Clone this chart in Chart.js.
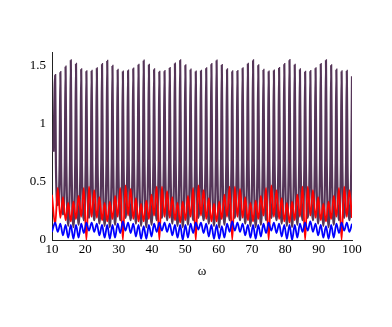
<!DOCTYPE html>
<html>
<head>
<meta charset="utf-8">
<script src="https://cdn.jsdelivr.net/npm/chart.js@4"></script>
<style>
  html, body { margin: 0; padding: 0; background: #fff; }
</style>
</head>
<body>
<canvas id="chart_div" width="392" height="327"></canvas>
<script>
// sample positions (peaks / troughs), used by red and blue
const omega = [10.00,
  10.95, 11.73, 12.51, 13.29, 14.07, 14.86, 15.64, 16.42, 17.20, 17.98, 18.76, 19.54,
  20.32, 21.10, 21.89, 22.67, 23.45, 24.23, 25.01, 25.79, 26.57, 27.35, 28.14, 28.92, 29.70, 30.48,
  31.26, 32.04, 32.82, 33.60, 34.38, 35.17, 35.95, 36.73, 37.51, 38.29, 39.07, 39.85, 40.63, 41.41,
  42.20, 42.98, 43.76, 44.54, 45.32, 46.10, 46.88, 47.66, 48.45, 49.23, 50.01, 50.79, 51.57, 52.35,
  53.13, 53.91, 54.69, 55.48, 56.26, 57.04, 57.82, 58.60, 59.38, 60.16, 60.94, 61.72, 62.51, 63.29,
  64.07, 64.85, 65.63, 66.41, 67.19, 67.97, 68.76, 69.54, 70.32, 71.10, 71.88, 72.66, 73.44, 74.22,
  75.00, 75.79, 76.57, 77.35, 78.13, 78.91, 79.69, 80.47, 81.25, 82.03, 82.82, 83.60, 84.38, 85.16,
  85.94, 86.72, 87.50, 88.28, 89.07, 89.85, 90.63, 91.41, 92.19, 92.97, 93.75, 94.53, 95.31, 96.10,
  96.88, 97.66, 98.44, 99.22, 100.00];

// purple curve: narrow peaks, so each peak gets two shoulder points
const purpleX = [10.45,
  10.95, 11.17, 11.73,
  12.29, 12.51, 12.73, 13.29,  13.85, 14.07, 14.29, 14.86,  15.42, 15.64, 15.86, 16.42,
  16.98, 17.20, 17.42, 17.98,  18.54, 18.76, 18.98, 19.54,  20.10, 20.32, 20.54, 21.10,
  21.67, 21.89, 22.11, 22.67,  23.23, 23.45, 23.67, 24.23,  24.79, 25.01, 25.23, 25.79,
  26.35, 26.57, 26.79, 27.35,  27.92, 28.14, 28.36, 28.92,  29.48, 29.70, 29.92, 30.48,
  31.04, 31.26, 31.48, 32.04,  32.60, 32.82, 33.04, 33.60,  34.16, 34.38, 34.60, 35.17,
  35.73, 35.95, 36.17, 36.73,  37.29, 37.51, 37.73, 38.29,  38.85, 39.07, 39.29, 39.85,
  40.41, 40.63, 40.85, 41.41,  41.98, 42.20, 42.42, 42.98,  43.54, 43.76, 43.98, 44.54,
  45.10, 45.32, 45.54, 46.10,  46.66, 46.88, 47.10, 47.66,  48.23, 48.45, 48.67, 49.23,
  49.79, 50.01, 50.23, 50.79,  51.35, 51.57, 51.79, 52.35,  52.91, 53.13, 53.35, 53.91,
  54.47, 54.69, 54.91, 55.48,  56.04, 56.26, 56.48, 57.04,  57.60, 57.82, 58.04, 58.60,
  59.16, 59.38, 59.60, 60.16,  60.72, 60.94, 61.16, 61.72,  62.29, 62.51, 62.73, 63.29,
  63.85, 64.07, 64.29, 64.85,  65.41, 65.63, 65.85, 66.41,  66.97, 67.19, 67.41, 67.97,
  68.54, 68.76, 68.98, 69.54,  70.10, 70.32, 70.54, 71.10,  71.66, 71.88, 72.10, 72.66,
  73.22, 73.44, 73.66, 74.22,  74.78, 75.00, 75.22, 75.79,  76.35, 76.57, 76.79, 77.35,
  77.91, 78.13, 78.35, 78.91,  79.47, 79.69, 79.91, 80.47,  81.03, 81.25, 81.47, 82.03,
  82.60, 82.82, 83.04, 83.60,  84.16, 84.38, 84.60, 85.16,  85.72, 85.94, 86.16, 86.72,
  87.28, 87.50, 87.72, 88.28,  88.85, 89.07, 89.29, 89.85,  90.41, 90.63, 90.85, 91.41,
  91.97, 92.19, 92.41, 92.97,  93.53, 93.75, 93.97, 94.53,  95.09, 95.31, 95.53, 96.10,
  96.66, 96.88, 97.10, 97.66,  98.22, 98.44, 98.66, 99.22,
  99.78, 100.00];

const purple = [0.76,
  1.42, 0.66, 0.30,
  0.66, 1.446, 0.67, 0.22,  0.68, 1.494, 0.69, 0.12,  0.70, 1.549, 0.70, 0.11,
  0.69, 1.517, 0.68, 0.13,  0.67, 1.471, 0.67, 0.17,  0.66, 1.454, 0.66, 0.19,
  0.66, 1.457, 0.66, 0.17,  0.67, 1.48, 0.68, 0.14,   0.69, 1.515, 0.69, 0.12,
  0.70, 1.543, 0.70, 0.11,  0.68, 1.50, 0.68, 0.13,   0.67, 1.466, 0.66, 0.17,
  0.66, 1.452, 0.66, 0.19,  0.66, 1.46, 0.66, 0.17,   0.67, 1.478, 0.68, 0.14,
  0.69, 1.51, 0.69, 0.12,   0.70, 1.545, 0.70, 0.11,  0.69, 1.51, 0.68, 0.13,
  0.67, 1.47, 0.67, 0.17,   0.66, 1.45, 0.66, 0.19,   0.66, 1.455, 0.66, 0.17,
  0.67, 1.482, 0.68, 0.14,  0.69, 1.52, 0.69, 0.12,   0.70, 1.548, 0.70, 0.11,
  0.68, 1.505, 0.68, 0.13,  0.67, 1.468, 0.66, 0.17,  0.66, 1.452, 0.66, 0.19,
  0.66, 1.458, 0.66, 0.17,  0.67, 1.48, 0.68, 0.14,   0.69, 1.515, 0.69, 0.12,
  0.70, 1.546, 0.70, 0.11,  0.69, 1.508, 0.68, 0.13,  0.67, 1.47, 0.67, 0.17,
  0.66, 1.453, 0.66, 0.19,  0.66, 1.456, 0.66, 0.17,  0.67, 1.48, 0.68, 0.14,
  0.69, 1.518, 0.69, 0.12,  0.70, 1.547, 0.70, 0.11,  0.68, 1.505, 0.68, 0.13,
  0.67, 1.466, 0.66, 0.17,  0.66, 1.452, 0.66, 0.19,  0.66, 1.46, 0.66, 0.17,
  0.67, 1.482, 0.68, 0.14,  0.69, 1.515, 0.69, 0.12,  0.70, 1.55, 0.70, 0.11,
  0.69, 1.51, 0.68, 0.13,   0.67, 1.47, 0.67, 0.17,   0.66, 1.45, 0.66, 0.19,
  0.66, 1.455, 0.66, 0.17,  0.67, 1.48, 0.68, 0.14,   0.69, 1.516, 0.69, 0.12,
  0.70, 1.548, 0.70, 0.11,  0.68, 1.505, 0.68, 0.13,  0.67, 1.468, 0.66, 0.17,
  0.66, 1.453, 0.66, 0.19,  0.66, 1.457, 0.66, 0.17,
  0.64, 1.41];

const red = [0.39,
  0.13, 0.45, 0.19, 0.37, 0.17, 0.32, 0.16, 0.33, 0.18, 0.38, 0.20, 0.45,
  0, 0.46, 0.20, 0.43, 0.19, 0.37, 0.17, 0.32, 0.16, 0.33, 0.18, 0.38, 0.20, 0.45,
  0, 0.47, 0.21, 0.44, 0.18, 0.36, 0.16, 0.31, 0.16, 0.34, 0.18, 0.39, 0.21, 0.46,
  0, 0.46, 0.20, 0.42, 0.19, 0.37, 0.17, 0.32, 0.15, 0.33, 0.17, 0.38, 0.20, 0.45,
  0, 0.47, 0.21, 0.43, 0.18, 0.36, 0.16, 0.31, 0.16, 0.33, 0.18, 0.39, 0.20, 0.46,
  0, 0.46, 0.20, 0.44, 0.19, 0.37, 0.17, 0.32, 0.16, 0.34, 0.18, 0.38, 0.21, 0.45,
  0, 0.47, 0.20, 0.43, 0.18, 0.36, 0.16, 0.32, 0.15, 0.33, 0.17, 0.39, 0.20, 0.46,
  0, 0.46, 0.21, 0.43, 0.19, 0.37, 0.17, 0.31, 0.16, 0.33, 0.18, 0.38, 0.20, 0.45,
  0, 0.46, 0.20, 0.43, 0.19];

const blue = [0.07,
  0.15, 0.07, 0.14, 0.04, 0.13, 0.02, 0.13, 0.01, 0.13, 0.02, 0.14, 0.06,
  0.15, 0.08, 0.15, 0.07, 0.14, 0.04, 0.13, 0.02, 0.13, 0.01, 0.13, 0.02, 0.14, 0.06,
  0.16, 0.08, 0.15, 0.06, 0.14, 0.03, 0.13, 0.01, 0.12, 0.01, 0.13, 0.03, 0.14, 0.07,
  0.15, 0.08, 0.15, 0.07, 0.14, 0.04, 0.13, 0.02, 0.13, 0.00, 0.13, 0.02, 0.14, 0.06,
  0.15, 0.09, 0.15, 0.06, 0.14, 0.03, 0.13, 0.01, 0.13, 0.01, 0.12, 0.02, 0.14, 0.07,
  0.16, 0.08, 0.15, 0.07, 0.14, 0.04, 0.13, 0.02, 0.13, 0.01, 0.13, 0.03, 0.14, 0.06,
  0.15, 0.08, 0.15, 0.06, 0.14, 0.03, 0.13, 0.01, 0.13, 0.00, 0.13, 0.02, 0.14, 0.07,
  0.15, 0.08, 0.16, 0.07, 0.14, 0.04, 0.13, 0.02, 0.12, 0.01, 0.13, 0.02, 0.14, 0.06,
  0.15, 0.08, 0.15, 0.07, 0.14];

const xTicks = [10, 20, 30, 40, 50, 60, 70, 80, 90, 100];
const yTicks = [0, 0.5, 1, 1.5];

const pts = (xs, ys) => xs.map((x, i) => ({ x: x, y: ys[i] }));

Chart.defaults.font.family = "'Liberation Serif', 'Times New Roman', serif";
Chart.defaults.font.size = 13;
Chart.defaults.color = '#000';

const ctx = document.getElementById('chart_div');
new Chart(ctx, {
  type: 'line',
  data: {
    datasets: [
      { data: pts(omega, blue), borderColor: '#0000ff', borderWidth: 1.8 },
      { data: pts(omega, red), borderColor: '#ff0000', borderWidth: 1.8 },
      { data: pts(purpleX, purple), borderColor: '#553558', borderWidth: 2.2 }
    ]
  },
  options: {
    responsive: false,
    animation: false,
    cubicInterpolationMode: 'monotone',
    elements: { point: { radius: 0 } },
    layout: { padding: { left: 12, right: 40, top: 52, bottom: 48 } },
    plugins: { legend: { display: false }, tooltip: { enabled: false } },
    scales: {
      x: {
        type: 'linear',
        min: 10,
        max: 100,
        afterBuildTicks: s => { s.ticks = xTicks.map(v => ({ value: v })); },
        afterFit: s => { s.height = 39; },
        grid: { display: false, drawTicks: false },
        border: { display: true, color: '#222', width: 1 },
        ticks: { padding: 2, maxRotation: 0, callback: v => String(v) },
        title: { display: true, text: 'ω', font: { size: 13 }, padding: { top: 0, bottom: 0 } }
      },
      y: {
        min: 0,
        max: 1.62,
        afterBuildTicks: s => { s.ticks = yTicks.map(v => ({ value: v })); },
        afterFit: s => { s.width = 40; },
        grid: { display: false, drawTicks: false },
        border: { display: true, color: '#222', width: 1 },
        ticks: { padding: 6, callback: v => String(v) }
      }
    }
  }
});
</script>
</body>
</html>
